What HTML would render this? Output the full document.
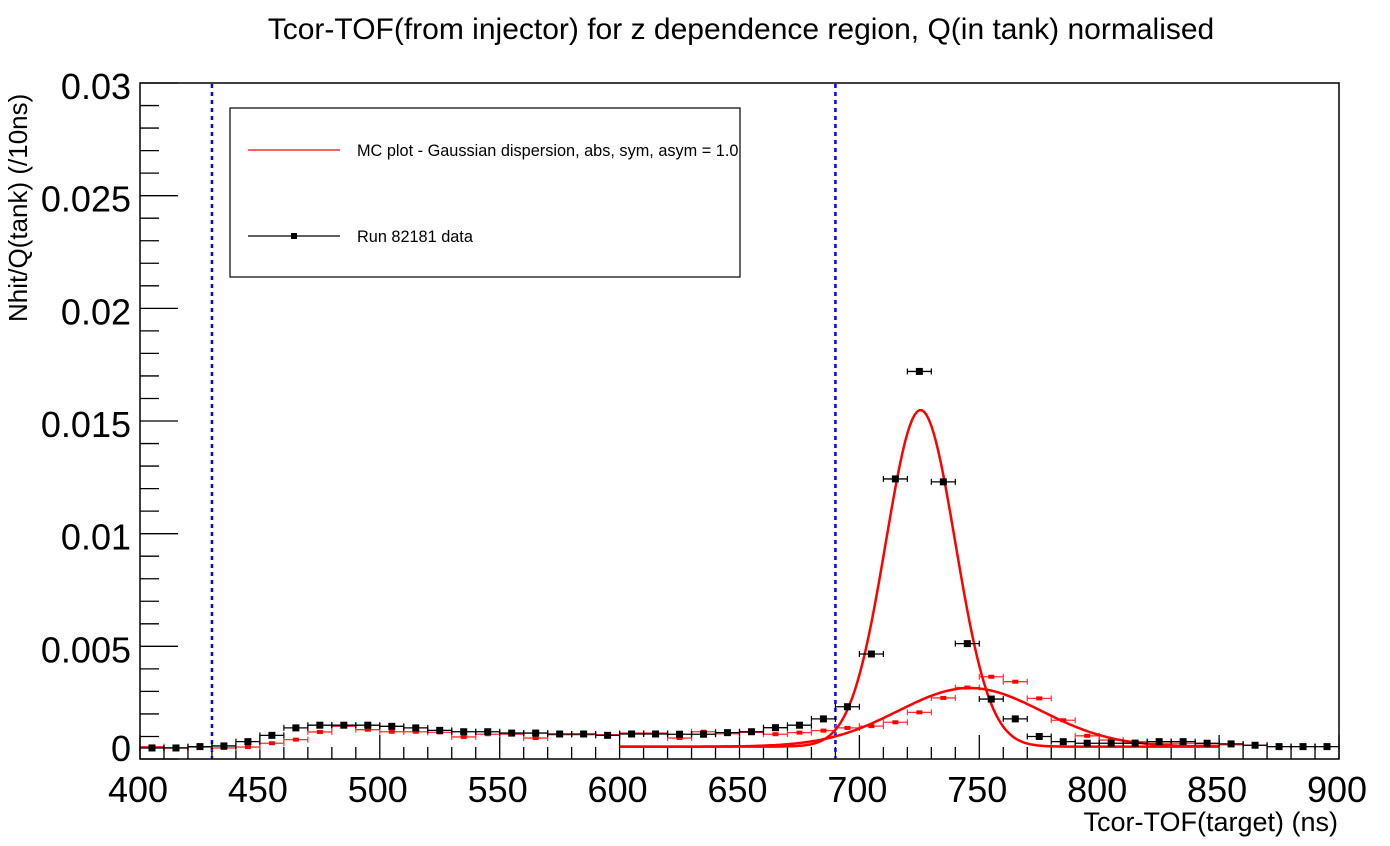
<!DOCTYPE html>
<html><head><meta charset="utf-8"><style>
body{margin:0;background:#fff;}
svg text{font-family:"Liberation Sans",sans-serif;}
</style></head><body>
<svg id="c" width="1390" height="841" xmlns="http://www.w3.org/2000/svg">
<rect width="1390" height="841" fill="#fff"/>
<text x="741" y="39" font-size="30" text-anchor="middle">Tcor-TOF(from injector) for z dependence region, Q(in tank) normalised</text>
<text transform="translate(27,322) rotate(-90)" font-size="26" text-anchor="start">Nhit/Q(tank) (/10ns)</text>
<text x="1338" y="831" font-size="27" text-anchor="end">Tcor-TOF(target) (ns)</text>
<g id="axes"></g>
<g id="marks"></g>
<rect x="140" y="83" width="1199" height="676" fill="none" stroke="#000" stroke-width="1.5"/>
<g>
<rect x="230" y="108" width="510" height="169" fill="#fff" stroke="#000" stroke-width="1.2"/>
<line x1="248" y1="150" x2="340" y2="150" stroke="#f00" stroke-width="1.2"/>
<text x="357" y="156" font-size="16.3">MC plot - Gaussian dispersion, abs, sym, asym = 1.0</text>
<line x1="248" y1="236" x2="340" y2="236" stroke="#000" stroke-width="1.2"/>
<rect x="291" y="233" width="6" height="6" fill="#000"/>
<text x="357" y="242" font-size="16.3">Run 82181 data</text>
</g>
</svg>
<script>
const binCenters=[405,415,425,435,445,455,465,475,485,495,505,515,525,535,545,555,565,575,585,595,605,615,625,635,645,655,665,675,685,695,705,715,725,735,745,755,765,775,785,795,805,815,825,835,845,855,865,875,885,895];
const dataValues=[0.00049,0.00049,0.00055,0.00058,0.00077,0.00105,0.00138,0.0015,0.0015,0.0015,0.00145,0.00138,0.00127,0.00121,0.00121,0.00115,0.00115,0.00111,0.00111,0.00105,0.00111,0.00111,0.0011,0.0011,0.00117,0.00121,0.00139,0.0015,0.00178,0.00232,0.00466,0.01243,0.0172,0.0123,0.00512,0.00266,0.00178,0.001,0.00077,0.0007,0.0007,0.0007,0.00077,0.00077,0.0007,0.00067,0.00061,0.00055,0.00055,0.00055];
const mcValues=[0.00055,0.00049,0.00053,0.00049,0.00053,0.0007,0.00086,0.0012,0.00145,0.0013,0.00121,0.00121,0.00118,0.00098,0.0011,0.0011,0.00093,0.00108,0.00108,0.00108,0.00115,0.00115,0.00093,0.00121,0.00112,0.00118,0.0011,0.00117,0.00126,0.00138,0.00146,0.00163,0.00207,0.00271,0.00317,0.00365,0.00343,0.00269,0.00172,0.00103,0.00084,0.00077,0.0007,0.0007,0.00067,0.00063,0.00061,0.00055,0.00055,0.00055];
// fit params: [baseline, amplitude, mean, sigma, xmin, xmax]
const narrowFit=[0.00055,0.01494,725.5,14.5,600,850];
const broadFit=[0.00055,0.0026,746,30,600,850];
const xTicks=[400,450,500,550,600,650,700,750,800,850,900];
const yTicks=[0,0.005,0.01,0.015,0.02,0.025,0.03];
const yTickLabels=["0","0.005","0.01","0.015","0.02","0.025","0.03"];
const cutLines=[430,690];

const NS="http://www.w3.org/2000/svg";
const X=v=>140+(v-400)*2.398;
const Y=v=>759-v*22533;
function mk(tag,attrs,parent){const e=document.createElementNS(NS,tag);for(const k in attrs)e.setAttribute(k,attrs[k]);parent.appendChild(e);return e;}
const ax=document.getElementById('axes'), mg=document.getElementById('marks');
for(let v=400;v<=900;v+=10){const maj=v%50===0;const t=mk('line',{x1:X(v),x2:X(v),y1:759,y2:759-(maj?24:12),stroke:'#000','stroke-width':1.3},ax);

}
xTicks.forEach((v,i)=>{const t=mk('text',{x:X(v)-2,y:802,'font-size':36,'text-anchor':'middle'},ax);t.textContent=v;

});
for(let i=0;i<=30;i++){const v=i*0.001;const maj=i%5===0;const t=mk('line',{x1:140,x2:140+(maj?38:19),y1:Y(v),y2:Y(v),stroke:'#000','stroke-width':1.3},ax);

}
yTicks.forEach((v,i)=>{const yy=i===0?Y(v)-11:Y(v)+3;const t=mk('text',{x:131,y:yy+13,'font-size':36,'text-anchor':'end'},ax);t.textContent=yTickLabels[i];

});
cutLines.forEach(v=>{const l=mk('line',{x1:X(v),x2:X(v),y1:84,y2:758,stroke:'#00f','stroke-width':2.5,'stroke-dasharray':'4 4'},mg);

});
binCenters.forEach((c,i)=>{const g=mk('g',{},mg);


const y=Y(mcValues[i]);
mk('line',{x1:X(c-5),x2:X(c+5),y1:y,y2:y,stroke:'#f33','stroke-width':1.3},g);
mk('line',{x1:X(c-5),x2:X(c-5),y1:y-3,y2:y+3,stroke:'#f33','stroke-width':1.2},g);
mk('line',{x1:X(c+5),x2:X(c+5),y1:y-3,y2:y+3,stroke:'#f33','stroke-width':1.2},g);
mk('rect',{x:X(c)-3,y:y-2,width:6,height:4,fill:'#f00'},g);});
function fitPath(p){let d='';for(let v=p[4];v<=p[5];v+=1){const f=p[0]+p[1]*Math.exp(-0.5*Math.pow((v-p[2])/p[3],2));d+=(d?'L':'M')+X(v).toFixed(1)+','+Y(f).toFixed(1);}return d;}
const f1=mk('path',{d:fitPath(broadFit),fill:'none',stroke:'#f00','stroke-width':2.5},mg);


const f2=mk('path',{d:fitPath(narrowFit),fill:'none',stroke:'#f00','stroke-width':2.5},mg);


binCenters.forEach((c,i)=>{const g=mk('g',{},mg);


const y=Y(dataValues[i]);
mk('line',{x1:X(c-5),x2:X(c+5),y1:y,y2:y,stroke:'#000','stroke-width':1.3},g);
mk('line',{x1:X(c-5),x2:X(c-5),y1:y-3,y2:y+3,stroke:'#000','stroke-width':1.2},g);
mk('line',{x1:X(c+5),x2:X(c+5),y1:y-3,y2:y+3,stroke:'#000','stroke-width':1.2},g);
mk('rect',{x:X(c)-3.5,y:y-3.5,width:7,height:7,fill:'#000'},g);});
</script>
</body></html>
